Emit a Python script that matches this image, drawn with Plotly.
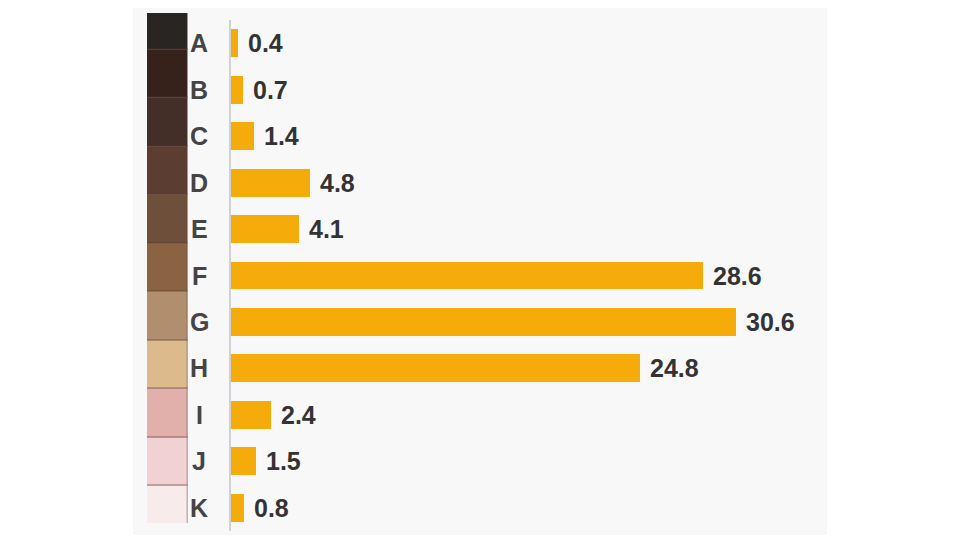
import plotly.graph_objects as go

categories = ["A", "B", "C", "D", "E", "F", "G", "H", "I", "J", "K"]
values = [0.4, 0.7, 1.4, 4.8, 4.1, 28.6, 30.6, 24.8, 2.4, 1.5, 0.8]
swatch_colors = ["#292523", "#36221a", "#432f28", "#5b3d32", "#6d4f3a", "#896342",
                 "#b08e6e", "#dcba8c", "#e1b0aa", "#f1d1d3", "#f8ebeb"]
value_labels = [f"{v:.1f}" for v in values]

W, H = 960, 540
OFF = 8  # page body margin
FONT = "Liberation Sans, Arial, sans-serif"

TOP, BOT = 5, 523          # plot area in page px
PH = BOT - TOP


def px(p):
    return (p - OFF) / W


def py(p):
    return (BOT - (p - OFF)) / PH


fig = go.Figure()

# colour swatches (slightly clipped first/last band, like the picture)
fig.add_trace(go.Bar(
    y=list(range(len(categories))), x=[1] * len(categories), orientation="h",
    xaxis="x2", yaxis="y2",
    marker=dict(color=swatch_colors, line=dict(color="rgba(90,55,45,0.35)", width=1.5)),
    width=1.0, hoverinfo="skip", showlegend=False,
))

# value bars
fig.add_trace(go.Bar(
    y=categories, x=values, orientation="h",
    xaxis="x", yaxis="y",
    marker=dict(color="#f5ac0a", line=dict(width=0)),
    width=0.6, showlegend=False,
))

annotations = []
for c, v, t in zip(categories, values, value_labels):
    annotations.append(dict(
        x=v, y=c, xref="x", yref="y", text=f"<b>{t}</b>", showarrow=False,
        xanchor="left", xshift=8, font=dict(family=FONT, size=25, color="#333333"),
    ))
    annotations.append(dict(
        x=px(199), y=c, xref="paper", yref="y", text=f"<b>{c}</b>", showarrow=False,
        xanchor="center", font=dict(family=FONT, size=25, color="#444444"),
    ))

fig.update_layout(
    width=W, height=H,
    margin=dict(l=0, r=0, t=TOP, b=H - BOT),
    paper_bgcolor="white", plot_bgcolor="rgba(0,0,0,0)",
    bargap=0,
    xaxis=dict(domain=[px(231), px(827)], range=[0, 36.1], visible=False, fixedrange=True),
    xaxis2=dict(domain=[px(147), px(188)], range=[0, 1], visible=False, anchor="y2"),
    yaxis=dict(domain=[py(531), py(20)],
               categoryorder="array", categoryarray=categories, autorange=False,
               range=[10.5, -0.5], showticklabels=False, showgrid=False, zeroline=False,
               showline=True, linecolor="#cdd1d8", linewidth=1.5, anchor="x", ticks=""),
    yaxis2=dict(domain=[py(523), py(13)], range=[10.264, -0.264], visible=False,
                anchor="x2"),
    annotations=annotations,
    shapes=[dict(type="rect", xref="paper", yref="paper", x0=px(133), x1=px(827),
                 y0=py(535), y1=py(5), fillcolor="#f8f8f8",
                 line=dict(width=0), layer="below")],
)

fig.write_html("out.html")
